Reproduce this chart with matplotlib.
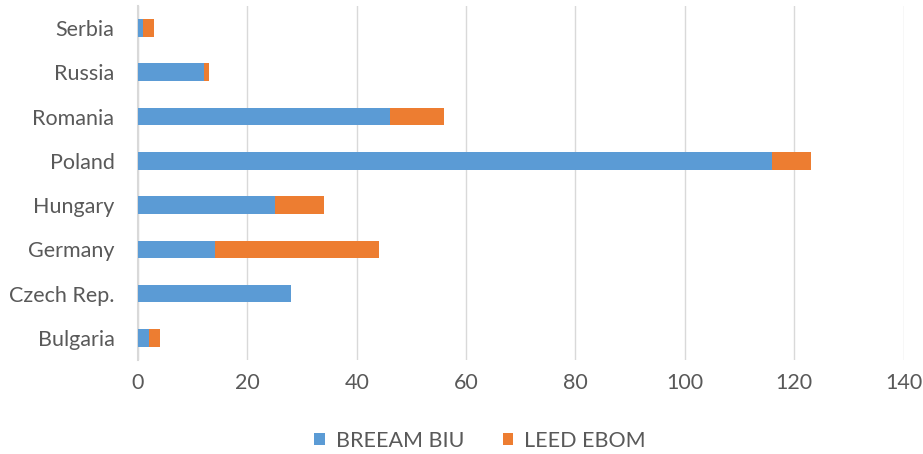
import numpy as np
import matplotlib.pyplot as plt

plt.rcParams['font.family'] = ['Lato', 'DejaVu Sans']

paises = ['Bulgaria', 'Czech Rep.', 'Germany', 'Hungary', 'Poland', 'Romania', 'Russia', 'Serbia']
breeam_biu = [2, 28, 14, 25, 116, 46, 12, 1]
leed_ebom = [2, 0, 30, 9, 7, 10, 1, 2]

gris = '#595959'
fig = plt.figure(figsize=(9.23, 4.54), dpi=100)
ax = fig.add_axes([0.1495, 0.207, 0.8295, 0.78])

y = np.arange(len(paises))
ax.barh(y, breeam_biu, height=0.4, color='#5b9bd5', label='BREEAM BIU', zorder=3)
ax.barh(y, leed_ebom, height=0.4, left=breeam_biu, color='#ed7d31', label='LEED EBOM', zorder=3)

ax.set_xlim(0, 140)
ax.set_ylim(-0.5, len(paises) - 0.5)
ax.set_xticks(np.arange(0, 141, 20))
ax.set_yticks(y)
ax.set_yticklabels(paises)
ax.tick_params(axis='both', length=0, labelsize=15.5, colors=gris)
ax.tick_params(axis='x', pad=9)
ax.tick_params(axis='y', pad=17)
ax.grid(axis='x', color='#d9d9d9', linewidth=1, zorder=0)
for s in ['top', 'right', 'bottom']:
    ax.spines[s].set_visible(False)
ax.spines['left'].set_color('#d9d9d9')
ax.spines['left'].set_linewidth(1.5)

fig.legend(loc='lower center', bbox_to_anchor=(0.52, -0.035), ncol=2, frameon=False,
           fontsize=15.5, labelcolor=gris, handlelength=0.5, handleheight=0.5,
           columnspacing=1.8, handletextpad=0.5)

plt.savefig('out.png', dpi=100)
